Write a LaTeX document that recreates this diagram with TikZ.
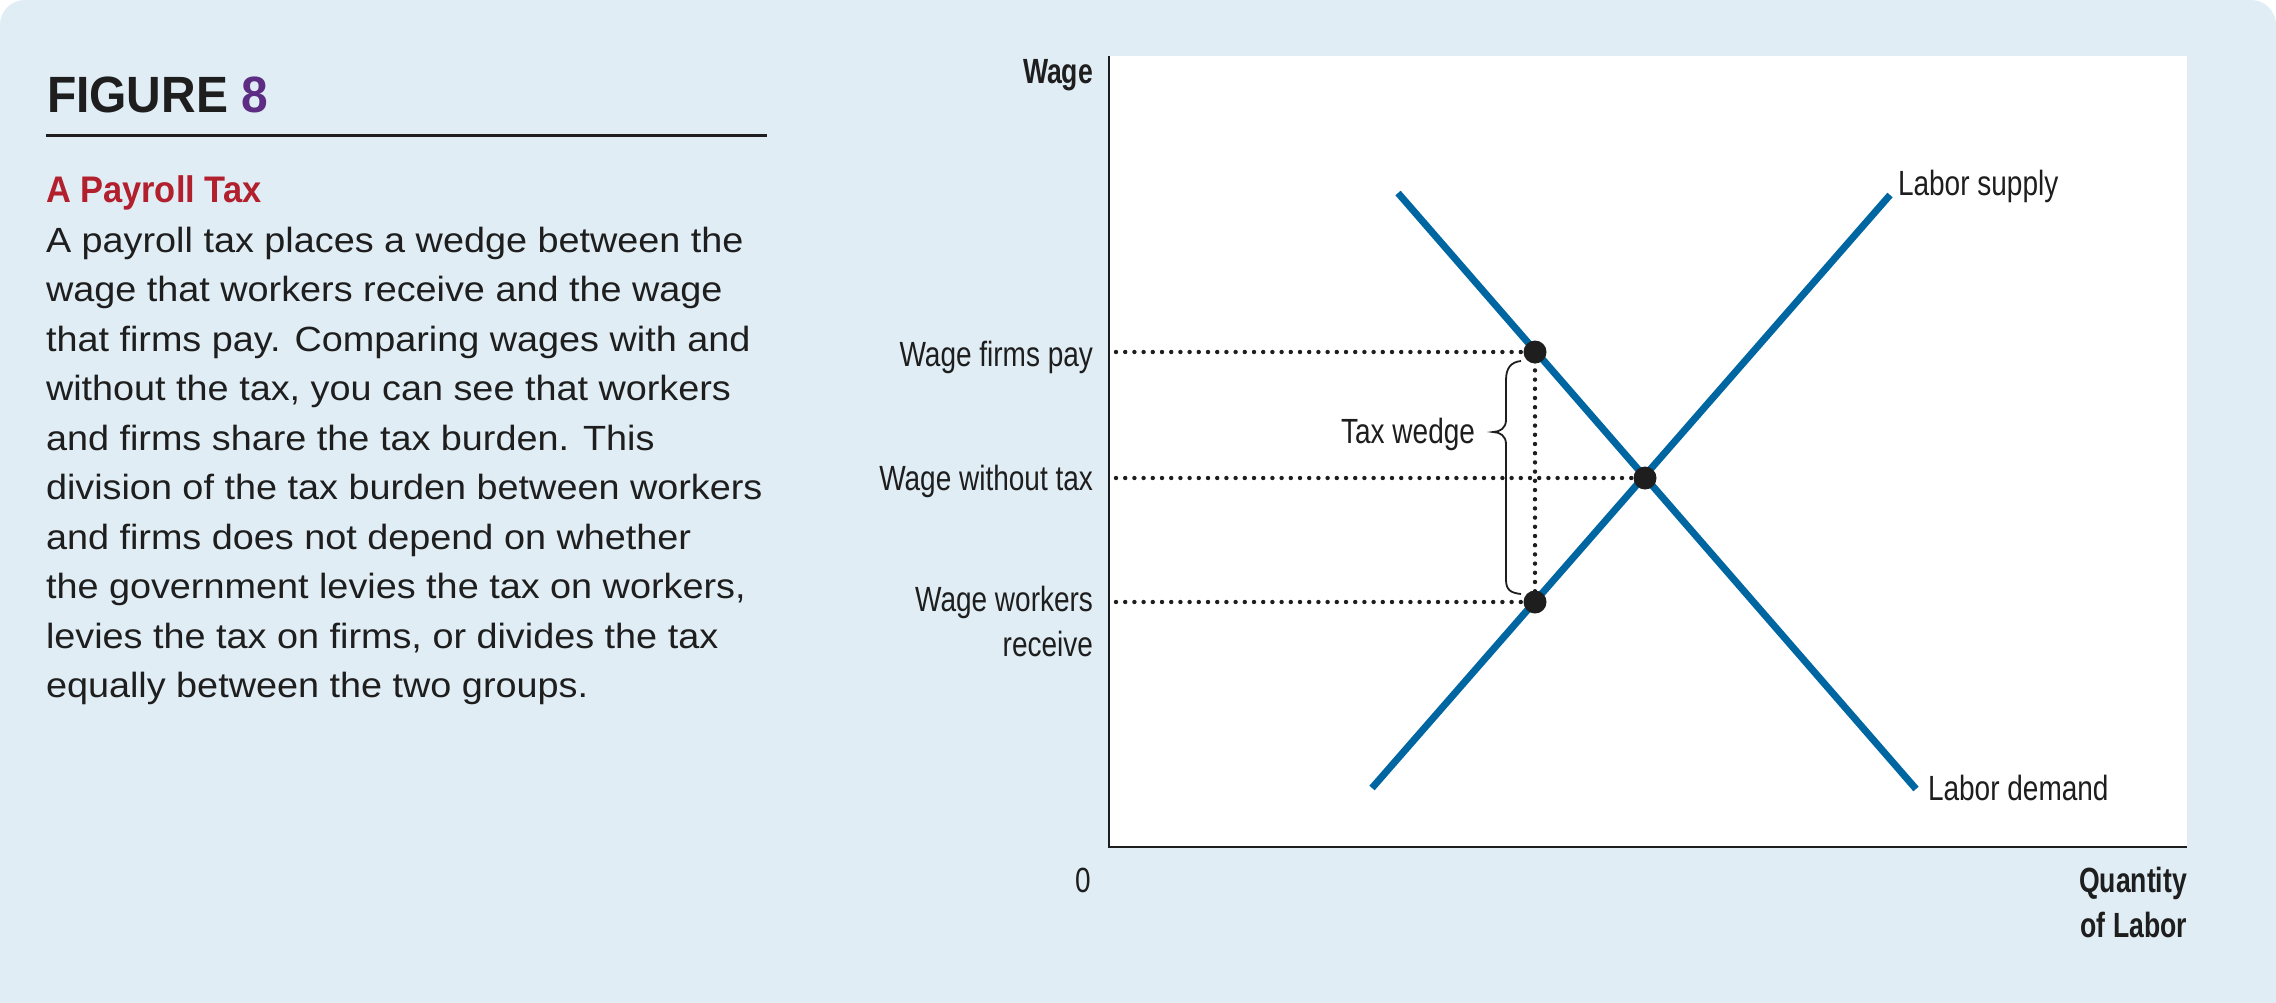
\documentclass[tikz,border=0pt]{standalone}
\usepackage{fontspec}
\setmainfont{Liberation Sans}
\newfontfamily\bodyfont{Liberation Sans}[FakeStretch=1.08]
\newfontfamily\lblfont{Liberation Sans}[FakeStretch=0.8]
\newfontfamily\lblboldfont{Liberation Sans}[FakeStretch=0.76]
\newfontfamily\headfont{Liberation Sans}[FakeStretch=0.93]
\newfontfamily\figfont{Liberation Sans}[FakeStretch=0.94]
\definecolor{bgblue}{RGB}{224,237,244}
\definecolor{econblue}{RGB}{0,102,161}
\definecolor{ink}{RGB}{30,30,30}
\definecolor{figpurple}{RGB}{92,45,130}
\definecolor{headred}{RGB}{178,31,45}
\tikzset{
  txt/.style={inner sep=0pt, outer sep=0pt, text=ink},
  lbl/.style={txt, font=\lblfont\fontsize{35}{42}\selectfont},
  lblb/.style={txt, font=\lblboldfont\bfseries\fontsize{35}{42}\selectfont},
  bodytxt/.style={txt, anchor=base west, font=\bodyfont\fontsize{35}{42}\selectfont},
  dotline/.style={draw=ink, line width=4.4pt, dash pattern=on 0pt off 9.2pt, line cap=round},
  curve/.style={draw=econblue, line width=7pt},
  eqdot/.style={circle, fill=ink, minimum size=23pt, inner sep=0pt, outer sep=0pt},
  bracestyle/.style={draw=ink, line width=1.8pt}
}
\begin{document}
\begin{tikzpicture}[x=1pt,y=-1pt]
\useasboundingbox (0,0) rectangle (2276,1002);
\clip (0,0) rectangle (2276,1002);
\fill[white] (0,0) rectangle (2276,1002);
\fill[bgblue, rounded corners=25pt] (0,0) rectangle (2276,1060);

% left panel
\node[txt, anchor=base west, font=\figfont\bfseries\fontsize{51}{58}\selectfont] (fig) at (47,112) {FIGURE \textcolor{figpurple}{8}};
\draw[ink, line width=3pt] (46,135) -- (767,135);
\node[txt, anchor=base west, text=headred, font=\headfont\bfseries\fontsize{37}{44}\selectfont] (head) at (46,202) {A Payroll Tax};
\foreach \t [count=\i] in {
  {A payroll tax places a wedge between the},
  {wage that workers receive and the wage},
  {that firms pay. Comparing wages with and},
  {without the tax, you can see that workers},
  {and firms share the tax burden. This},
  {division of the tax burden between workers},
  {and firms does not depend on whether},
  {the government levies the tax on workers,},
  {levies the tax on firms, or divides the tax},
  {equally between the two groups.}}
  \node[bodytxt] (b\i) at (46,{252+(\i-1)*49.5}) {\t};

% plot area
\fill[white] (1109,56) rectangle (2187,847);
\coordinate (ytop) at (1109,56);
\coordinate (orig) at (1109,847);
\coordinate (xend) at (2187,847);
\draw[ink, line width=2.6pt] (ytop) -- (orig) -- (xend);

% axis labels
\node[lblb, anchor=base east] (wage) at (1093,83) {Wage};
\node[lbl, anchor=base] (zero) at (1083,892) {0};
\node[lblb, anchor=base east] (qty) at (2187,892) {Quantity};
\node[lblb, anchor=base east] (ofl) at (2187,937) {of Labor};

% curves
\coordinate (s0) at (1372,788);
\coordinate (s1) at (1890,195);
\coordinate (d0) at (1398,193);
\coordinate (d1) at (1916,789);
\draw[curve] (s0) -- (s1);
\draw[curve] (d0) -- (d1);
\node[lbl, anchor=base west] (supl) at (1898,195) {Labor supply};
\node[lbl, anchor=base west] (deml) at (1928,800) {Labor demand};

% guides
\coordinate (af) at (1116,352);
\coordinate (ae) at (1116,478);
\coordinate (aw) at (1116,602);
\coordinate (cf) at (1535,352);
\coordinate (cw) at (1535,602);
\coordinate (ce) at (1645,478);
\draw[dotline] (af) -- (cf);
\draw[dotline] (ae) -- (ce);
\draw[dotline] (aw) -- (cw);
\draw[dotline] (cf) -- (cw);

% points
\node[eqdot] (pf) at (cf) {};
\node[eqdot] (pw) at (cw) {};
\node[eqdot] (pe) at (ce) {};

% wage labels
\node[lbl, anchor=base east] (lfp) at (1093,366) {Wage firms pay};
\node[lbl, anchor=base east] (lwt) at (1093,490) {Wage without tax};
\node[lbl, anchor=base east] (lww) at (1093,611) {Wage workers};
\node[lbl, anchor=base east] (lrc) at (1093,656) {receive};

% brace
\coordinate (brT) at (1521,361);
\coordinate (brTip) at (1493,432);
\coordinate (brB) at (1521,594);
\draw[bracestyle] (brT) .. controls (1511,362) and (1506,368) .. (1506,380)
  -- (1506,420) .. controls (1506,428) and (1500,432) .. (brTip)
  .. controls (1500,432) and (1506,436) .. (1506,444)
  -- (1506,580) .. controls (1506,590) and (1511,593) .. (brB);
\node[lbl, anchor=base east] (tw) at (1475,443) {Tax wedge};
\end{tikzpicture}
\end{document}
